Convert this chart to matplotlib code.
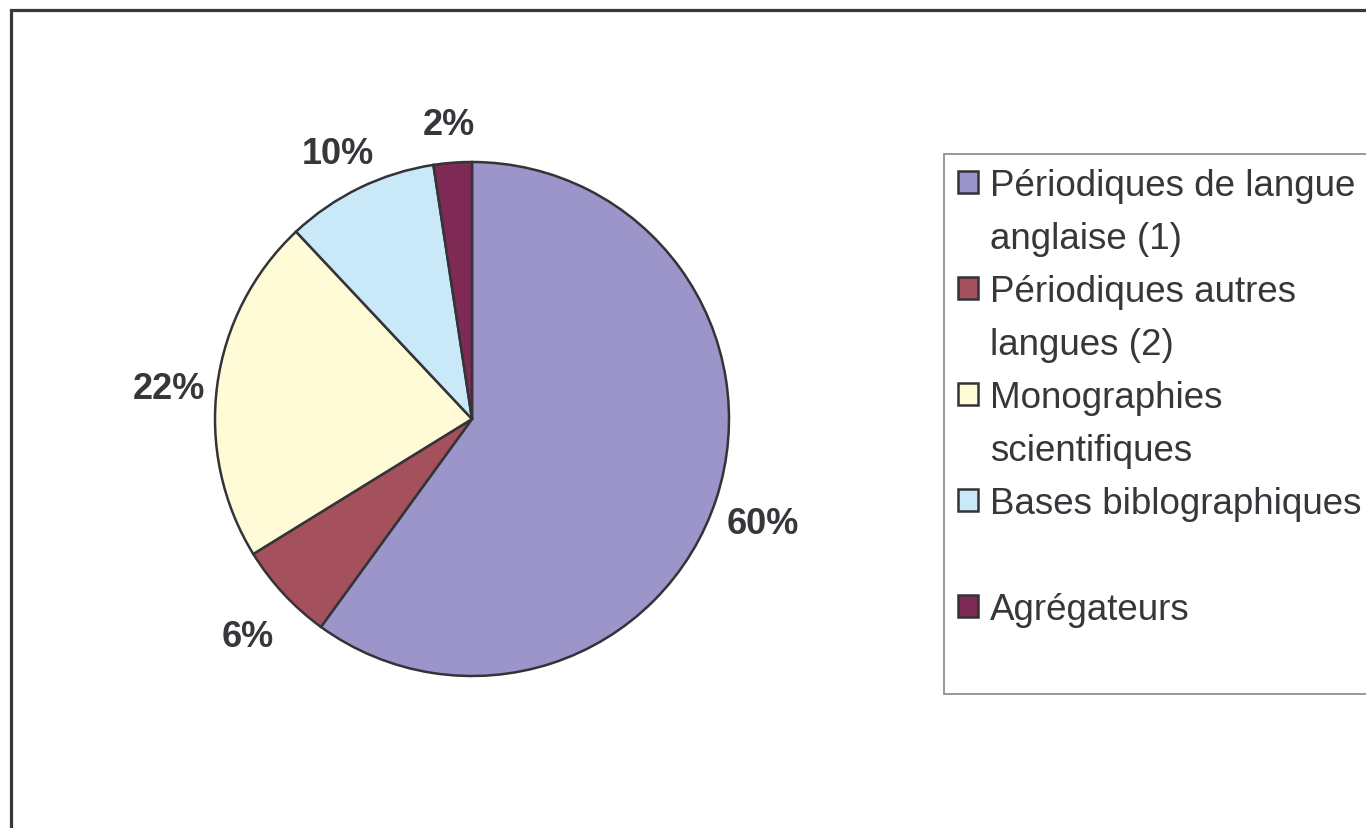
import numpy as np
import matplotlib
matplotlib.use('Agg')
from matplotlib import pyplot as plt
from matplotlib.patches import Rectangle

plt.rcParams['font.family'] = ['Liberation Sans', 'DejaVu Sans']

categories = ['Périodiques de langue\nanglaise (1)',
              'Périodiques autres\nlangues (2)',
              'Monographies\nscientifiques',
              'Bases biblographiques',
              'Agrégateurs']
values = [60.0, 6.2, 21.8, 9.6, 2.4]
colors = ['#9b95c9', '#a5505d', '#fffbd7', '#c9e9f8', '#7f2a55']
txt = '#37363b'

fig = plt.figure(figsize=(13.66, 8.29), dpi=100)
ax = fig.add_axes([0, 0, 1, 1])

# pie in pixel coordinates
wedges, _, autotexts = ax.pie(values, colors=colors, startangle=90, counterclock=False,
                              center=(472, 409), radius=257,
                              autopct='%.0f%%', pctdistance=1.19,
                              wedgeprops=dict(edgecolor='#333338', linewidth=1.8))
for t in autotexts:
    t.set_fontsize(26)
    t.set_fontweight('bold')
    t.set_color(txt)
    x, y = t.get_position()
    t.set_position((x, y - 10))

ax.set_xlim(0, 1366)
ax.set_ylim(0, 829)
ax.set_aspect('equal')
ax.axis('off')

# outer frame, cut by the image edges
ax.add_patch(Rectangle((11, -60), 1500, 829 - 11 + 60, fill=False,
                       edgecolor='#38373c', linewidth=2.3, clip_on=False))

# legend: two rows per category, marker on the first row
handles, labels = [], []
for w, c in zip(wedges, categories):
    lines = c.split('\n')
    if len(lines) < 2:
        lines.append(' ')
    handles.append(w)
    labels.append(lines[0])
    handles.append(Rectangle((0, 0), 1, 1, fill=False, edgecolor='none', linewidth=0))
    labels.append(lines[1])

leg = ax.legend(handles, labels, loc='upper left',
                bbox_to_anchor=(944 / 1366, 1 - 155 / 829), borderaxespad=0,
                fontsize=26.5, frameon=True, fancybox=False,
                handlelength=0.55, handleheight=0.55, handletextpad=0.33,
                labelspacing=0.49, borderpad=0.37)
leg.get_frame().set_edgecolor('#6a6a6a')
leg.get_frame().set_linewidth(1.2)
for t in leg.get_texts():
    t.set_color(txt)

fig.savefig('out.png', dpi=100)
